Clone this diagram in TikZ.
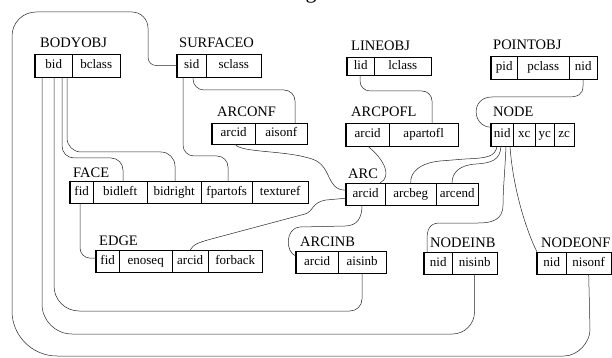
\documentclass[tikz,border=0pt]{standalone}
\usepackage{fontspec}
\setmainfont{Liberation Serif}
\tikzset{
  cell/.style={draw=black, line width=0.4pt, inner sep=0pt, anchor=north west,
    font=\fontsize{13}{15}\selectfont, text height=9pt, text depth=3pt},
  ttl/.style={anchor=base west, inner sep=0pt, font=\fontsize{14.5}{17}\selectfont},
  frame/.style={line width=0.6pt},
  frameheavy/.style={line width=1.2pt},
  link/.style={line width=0.5pt, draw=black!85},
}
\newcommand\mkcell[6]{\node[cell, minimum width={(#3-#2)*1pt}, minimum height={(#5-#4)*1pt}] (#1) at (#2,#4) {#6};}
\newcommand\tblframe[2]{\draw[frame] (#1.north west) rectangle (#2.south east);
  \draw[frameheavy] (#1.north west) -- (#1.south west) -- (#2.south east) -- (#2.north east);}
\begin{document}
\begin{tikzpicture}[x=1pt,y=-1pt]
\useasboundingbox (0,0) rectangle (612,358);
% fragment of a cut-off title
\node[anchor=base, inner sep=0pt, font=\fontsize{22}{24}\selectfont] (t-frag) at (311,-1) {g};
% titles
\node[ttl] (t-bodyobj) at (40,48) {BODYOBJ};
\node[ttl] (t-surfaceo) at (179,48) {SURFACEO};
\node[ttl] (t-lineobj) at (351,51) {LINEOBJ};
\node[ttl] (t-pointobj) at (493,50) {POINTOBJ};
\node[ttl] (t-arconf) at (217,117) {ARCONF};
\node[ttl] (t-arcpofl) at (351,117) {ARCPOFL};
\node[ttl] (t-node) at (493,117) {NODE};
\node[ttl] (t-face) at (73,177) {FACE};
\node[ttl] (t-arc) at (348,178) {ARC};
\node[ttl] (t-edge) at (99,245) {EDGE};
\node[ttl] (t-arcinb) at (300,246) {ARCINB};
\node[ttl] (t-nodeinb) at (430,247) {NODEINB};
\node[ttl] (t-nodeonf) at (541,247) {NODEONF};
% cells
\mkcell{bodyobj-bid}{35}{72}{54}{77}{bid}
\mkcell{bodyobj-bclass}{72}{120}{54}{77}{bclass}
\mkcell{surfaceo-sid}{177}{206}{54}{77}{sid}
\mkcell{surfaceo-sclass}{206}{261}{54}{77}{sclass}
\mkcell{lineobj-lid}{347}{374}{57}{75}{lid}
\mkcell{lineobj-lclass}{374}{431}{57}{75}{lclass}
\mkcell{pointobj-pid}{491}{517}{56}{79}{pid}
\mkcell{pointobj-pclass}{517}{569}{56}{79}{pclass}
\mkcell{pointobj-nid}{569}{597}{56}{79}{nid}
\mkcell{arconf-arcid}{212}{255}{123}{144}{arcid}
\mkcell{arconf-aisonf}{255}{307}{123}{144}{aisonf}
\mkcell{arcpofl-arcid}{346}{389}{123}{146}{arcid}
\mkcell{arcpofl-apartofl}{389}{458}{123}{146}{apartofl}
\mkcell{node-nid}{491}{513}{123}{146}{nid}
\mkcell{node-xc}{513}{535}{123}{146}{xc}
\mkcell{node-yc}{535}{554}{123}{146}{yc}
\mkcell{node-zc}{554}{574}{123}{146}{zc}
\mkcell{face-fid}{70}{93}{181}{203}{fid}
\mkcell{face-bidleft}{93}{147}{181}{203}{bidleft}
\mkcell{face-bidright}{147}{201}{181}{203}{bidright}
\mkcell{face-fpartofs}{201}{252}{181}{203}{fpartofs}
\mkcell{face-texturef}{252}{308}{181}{203}{texturef}
\mkcell{arc-arcid}{346}{385}{183}{205}{arcid}
\mkcell{arc-arcbeg}{385}{436}{183}{205}{arcbeg}
\mkcell{arc-arcend}{436}{478}{183}{205}{arcend}
\mkcell{edge-fid}{96}{119}{250}{272}{fid}
\mkcell{edge-enoseq}{119}{172}{250}{272}{enoseq}
\mkcell{edge-arcid}{172}{208}{250}{272}{arcid}
\mkcell{edge-forback}{208}{262}{250}{272}{forback}
\mkcell{arcinb-arcid}{296}{338}{251}{273}{arcid}
\mkcell{arcinb-aisinb}{338}{386}{251}{273}{aisinb}
\mkcell{nodeinb-nid}{424}{452}{252}{274}{nid}
\mkcell{nodeinb-nisinb}{452}{497}{252}{274}{nisinb}
\mkcell{nodeonf-nid}{537}{566}{252}{274}{nid}
\mkcell{nodeonf-nisonf}{566}{611}{252}{274}{nisonf}
% frames
\tblframe{bodyobj-bid}{bodyobj-bclass}
\tblframe{surfaceo-sid}{surfaceo-sclass}
\tblframe{lineobj-lid}{lineobj-lclass}
\tblframe{pointobj-pid}{pointobj-nid}
\tblframe{arconf-arcid}{arconf-aisonf}
\tblframe{arcpofl-arcid}{arcpofl-apartofl}
\tblframe{node-nid}{node-zc}
\tblframe{face-fid}{face-texturef}
\tblframe{arc-arcid}{arc-arcend}
\tblframe{edge-fid}{edge-forback}
\tblframe{arcinb-arcid}{arcinb-aisinb}
\tblframe{nodeinb-nid}{nodeinb-nisinb}
\tblframe{nodeonf-nid}{nodeonf-nisonf}
% connectors
\draw[link] (surfaceo-sid.west) -- (156,65.5) .. controls (151.6,65.5) and (148,61.9) .. (148,57.5)
  -- (148,28) .. controls (148,19.2) and (140.8,12) .. (132,12)
  -- (36,12) .. controls (22.8,12) and (12,22.8) .. (12,36)
  -- (12,311) .. controls (12,335.8) and (32.2,356) .. (57,356)
  -- (564,356) .. controls (578.4,356) and (590,341.6) .. (590,330)
  -- (nodeonf-nisonf.south);
\draw[link] ([xshift=7pt]bodyobj-bid.south west) -- (42,304) .. controls (42,320.6) and (55.4,334) .. (72,334)
  -- (452.5,334) .. controls (464.6,334) and (474.5,324.1) .. (474.5,312) -- (nodeinb-nisinb.south);
\draw[link] ([xshift=19pt]bodyobj-bid.south west) -- (54,286) .. controls (54,299.8) and (65.2,311) .. (79,311)
  -- (350,311) .. controls (356.6,311) and (362,305.6) .. (362,299) -- (arcinb-aisinb.south);
\draw[link, rounded corners=12pt] ([xshift=27pt]bodyobj-bid.south west) -- (62,158) -- (123,158) -- ([xshift=30pt]face-bidleft.north west);
\draw[link, rounded corners=14pt] ([xshift=32pt]bodyobj-bid.south west) -- (67,152) -- (175,152) -- ([xshift=28pt]face-bidright.north west);
\draw[link, rounded corners=11pt] ([xshift=6pt]surfaceo-sid.south west) -- (183,156) -- (228,156) -- ([xshift=27pt]face-fpartofs.north west);
\draw[link, rounded corners=11pt] ([xshift=16pt]surfaceo-sid.south west) -- (193,90) -- (295,90) -- ([xshift=40pt]arconf-aisonf.north west);
\draw[link] ([xshift=23pt]arconf-arcid.south west) .. controls (242,153) and (285,150) .. (312,159) .. controls (333,166) and (325,190) .. ([yshift=4pt]arc-arcid.west);
\draw[link] ([xshift=22pt]arcpofl-arcid.south west) .. controls (385,160) and (392,177) .. ([xshift=34pt]arc-arcid.north west);
\draw[link, rounded corners=10pt] ([xshift=13pt]lineobj-lid.south west) -- (360,91) -- (432,91) -- ([xshift=43pt]arcpofl-apartofl.north west);
\draw[link] (pointobj-nid.south) -- (583,86) .. controls (583,95) and (577,97) .. (568,97) -- (492,97) .. controls (470,97) and (472,127) .. ([yshift=7.5pt]node-nid.west);
\draw[link] ([xshift=6pt]node-nid.south west) .. controls (495,157) and (487,158) .. (465,159) -- (440,161) .. controls (420,163) and (410,172) .. (arc-arcbeg.north);
\draw[link] ([xshift=10pt]node-nid.south west) .. controls (500,160) and (492,163) .. (476,164) .. controls (460,165) and (452,172) .. ([xshift=16pt]arc-arcend.north west);
\draw[link] ([xshift=15pt]node-nid.south west) .. controls (505,170) and (503,190) .. (503,205) .. controls (503,220) and (492,223) .. (478,223) -- (440,223) .. controls (429,223) and (427,230) .. (427,240) -- ([xshift=3pt]nodeinb-nid.north west);
\draw[link] ([xshift=19pt]node-nid.south west) .. controls (513,190) and (527,232) .. (nodeonf-nid.north west);
\draw[link, rounded corners=10pt] ([xshift=10pt]face-fid.south west) -- (80,258) -- ([yshift=3pt]edge-fid.west);
\draw[link] (edge-arcid.north) .. controls (193,244) and (200,242) .. (215,238) -- (305,214) .. controls (313,212) and (312,202) .. (326,200) -- ([yshift=-4pt]arc-arcid.west);
\draw[link] ([xshift=16pt]arc-arcid.south west) .. controls (362,218) and (357,226) .. (345,226) -- (300,227) .. controls (285,228) and (285,252) .. ([yshift=6pt]arcinb-arcid.west);
\end{tikzpicture}
\end{document}
